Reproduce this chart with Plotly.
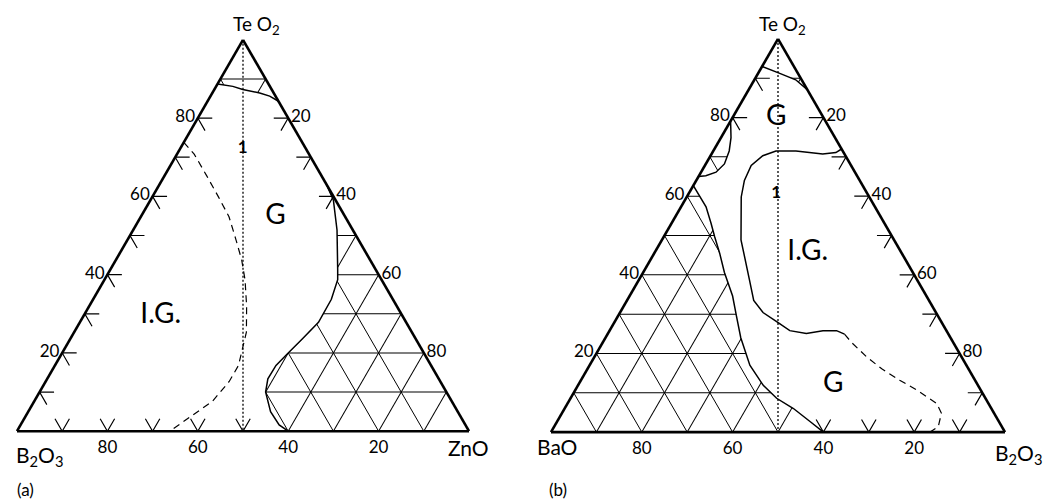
import plotly.graph_objects as go

# the page body keeps its default 8px margin, so the figure is a bit smaller
# than the 1055x501 window and reference pixels are shifted by PAD
W, H = 1055, 501
PAD = 8
FIG_W, FIG_H = W - PAD, H - PAD
FONT = "Lato"

# grid / tick positions along each edge (mol %)
GRID = [10, 20, 30, 40, 50, 60, 70, 80, 90]
GRID_TEXT = ["", "20", "", "40", "", "60", "", "80", ""]

# ---- (a) TeO2 - B2O3 - ZnO, points are (TeO2, B2O3, ZnO)
a_te_limit = [(88.7, 11.3, 0), (88.1, 8.2, 3.7), (87.3, 6.4, 6.3), (86.4, 3.1, 10.5),
              (85.6, 1.3, 13.1), (84.3, 0, 15.7)]
a_glass_limit = [(63, 0, 37), (59, 0.5, 40.5), (51.4, 3.5, 45.1), (41.3, 8.4, 50.3),
                 (38.7, 9.7, 51.6), (33.7, 13.6, 52.7), (27.8, 19.4, 52.8), (23.5, 25.2, 51.3),
                 (20, 30, 50), (16.8, 34.3, 48.9), (13.4, 37.8, 48.8), (10, 40, 50),
                 (5, 41.4, 53.6), (1.6, 41.2, 57.2), (0, 40, 60)]
a_ig_limit = [(73.8, 26.2, 0), (70.8, 25.4, 3.8), (65.3, 25.4, 9.3), (59.8, 25.5, 14.7),
              (54.8, 25.7, 19.5), (48.9, 27.1, 24.0), (43.8, 28.4, 27.8), (38.7, 30.2, 31.1),
              (32.0, 33.2, 34.8), (25.3, 36.6, 38.1), (16.8, 42.6, 40.6), (12.7, 46.7, 40.6),
              (7.6, 53.0, 39.4), (4.1, 59.1, 36.8), (0, 66.2, 33.8)]
a_ticks_left = [10, 20, 30, 40, 50, 60, 70, 80]   # TeO2
a_ticks_right = [20, 30, 40]                     # ZnO
a_ticks_base = [50, 60, 70, 80, 90]              # B2O3
a_labels = ["G", "I.G.", "<b>1</b>"]
a_label_pos = [(54.8, 15.4, 29.8), (29.4, 53.5, 17.1), (72.1, 14.0, 13.9)]

# ---- (b) TeO2 - BaO - B2O3, points are (TeO2, BaO, B2O3)
b_te_limit = [(93, 7, 0), (91.3, 4.1, 4.6), (89.6, 1.3, 9.1), (87.1, 0, 12.9)]
b_pocket = [(79.1, 20.9, 0), (77.4, 21.7, 0.9), (74.9, 22.9, 2.2), (71.5, 25.0, 3.5),
            (68.2, 27.7, 4.1), (66.1, 30.6, 3.3), (65.2, 33.3, 1.5), (65.0, 35.0, 0)]
b_ba_limit = [(62.7, 37.3, 0), (57.3, 37.2, 5.5), (53.1, 38.2, 8.7), (49.7, 39.1, 11.2),
              (45.5, 40.1, 14.4), (40.6, 41.5, 17.9), (34.6, 42.7, 22.7), (29.5, 44.4, 26.1),
              (24.0, 46.2, 29.8), (17.0, 47.7, 35.3), (11.9, 47.3, 40.8), (8.6, 46.0, 45.4),
              (6.0, 43.6, 50.4), (2.7, 41.6, 55.7), (0, 40, 60)]
b_ig_limit = [(72, 0, 28), (71.1, 1.7, 27.2), (70.7, 4.8, 24.5), (71.5, 10.3, 18.2),
              (71.5, 14.7, 13.8), (70.3, 18.2, 11.5), (67.8, 22.0, 10.2), (64.0, 25.4, 10.6),
              (59.8, 28.2, 12.0), (48.9, 33.7, 17.4), (38.8, 36.9, 24.3), (33.5, 38.6, 27.9),
              (30.4, 38.1, 31.5), (27.9, 36.1, 36.0), (25.8, 34.5, 39.7), (25.1, 31.2, 43.7),
              (25.8, 27.2, 47.0), (25.8, 24.2, 50.0), (24.9, 22.9, 52.2)]
b_ig_dash = [(24.9, 22.9, 52.2), (22.8, 22.4, 54.8), (19.1, 20.9, 60.0), (16.1, 19.1, 64.8),
             (13.2, 16.6, 70.2), (10.7, 14.1, 75.2), (7.3, 11.4, 81.3), (4.8, 11.6, 83.6),
             (1.4, 14.0, 84.6), (0, 16.5, 83.5)]
b_ticks_left = [80, 90]                          # TeO2
b_ticks_right = [20, 30, 40, 50, 60, 70, 80, 90]  # B2O3
b_ticks_base = [10, 20, 30, 40]                  # BaO
b_labels = ["G", "I.G.", "G", "<b>1</b>"]
b_label_pos = [(79.8, 10.5, 9.7), (45.5, 20.7, 33.8), (11.9, 31.9, 56.2), (60.6, 20.1, 19.3)]

# 1:1 join line from the TeO2 corner
join_line = [(100, 0, 0), (0, 50, 50)]

TICK = 3.2  # chevron arm length, mol %


def abc(points):
    return dict(a=[p[0] for p in points], b=[p[1] for p in points], c=[p[2] for p in points])


def curve(points, sub, dash="solid", width=1.5):
    return go.Scatterternary(**abc(points), subplot=sub, mode="lines", hoverinfo="skip",
                             line=dict(color="black", width=width, dash=dash))


def chevrons(left, right, base):
    pts = []
    gap = (None, None, None)
    for a in left:
        pts += [(a, 100 - a - TICK, TICK), (a, 100 - a, 0), (a - TICK, 100 - a, TICK), gap]
    for c in right:
        a = 100 - c
        pts += [(a, TICK, c - TICK), (a, 0, c), (a - TICK, TICK, c), gap]
    for b in base:
        c = 100 - b
        pts += [(TICK, b, c - TICK), (0, b, c), (TICK, b - TICK, c), gap]
    return pts


def white(points, sub):
    return go.Scatterternary(**abc(points), subplot=sub, mode="lines", fill="toself",
                             fillcolor="white", line=dict(width=0, color="white"), hoverinfo="skip")


def labels(text, pos, sub, size):
    return go.Scatterternary(**abc(pos), subplot=sub, mode="text", text=text, hoverinfo="skip",
                             textfont=dict(family=FONT, size=size, color="black"))


DASH = "7px,5px"
DOT = "2px,2px"

data = [
    # (a)
    white(a_te_limit + a_glass_limit + [(0, 100, 0)], "ternary"),
    curve(a_te_limit, "ternary"),
    curve(a_glass_limit, "ternary"),
    curve(a_ig_limit, "ternary", dash=DASH, width=1.2),
    curve(join_line, "ternary", dash=DOT, width=1.3),
    curve(chevrons(a_ticks_left, a_ticks_right, a_ticks_base), "ternary", width=1.2),
    labels(a_labels[:2], a_label_pos[:2], "ternary", 28),
    labels(a_labels[2:], a_label_pos[2:], "ternary", 17),
    # (b)
    white(b_te_limit + [(0, 0, 100)] + b_ba_limit[::-1] + b_pocket[::-1], "ternary2"),
    curve(b_te_limit, "ternary2"),
    curve(b_pocket, "ternary2"),
    curve(b_ba_limit, "ternary2"),
    curve(b_ig_limit, "ternary2"),
    curve(b_ig_dash, "ternary2", dash=DASH, width=1.2),
    curve(join_line, "ternary2", dash=DOT, width=1.3),
    curve(chevrons(b_ticks_left, b_ticks_right, b_ticks_base), "ternary2", width=1.2),
    labels(b_labels[:3], b_label_pos[:3], "ternary2", 28),
    labels(b_labels[3:], b_label_pos[3:], "ternary2", 17),
]

axis = dict(tickvals=GRID, ticktext=GRID_TEXT, ticks="", showgrid=True, gridcolor="black",
            gridwidth=1, linecolor="black", linewidth=2.6, title=dict(text=""),
            tickfont=dict(family=FONT, size=17, color="black"))


def px_x(px):
    return (px - PAD) / FIG_W


def px_y(py):
    return 1 - (py - PAD) / FIG_H


def ternary(left, right):
    return dict(sum=100, bgcolor="white",
                domain=dict(x=[px_x(left), px_x(right)], y=[px_y(433), px_y(38)]),
                aaxis=axis, baxis=axis, caxis=axis)


def note(text, px, py, size=21):
    return dict(text=text, x=px_x(px), y=px_y(py), xref="paper", yref="paper",
                xanchor="center", yanchor="middle", showarrow=False,
                font=dict(family=FONT, size=size, color="black"))


layout = go.Layout(
    width=FIG_W, height=FIG_H,
    margin=dict(l=0, r=0, t=0, b=0),
    paper_bgcolor="white",
    showlegend=False,
    hovermode=False,
    ternary=ternary(17, 469),
    ternary2=ternary(551, 1005),
    annotations=[
        note("Te O<sub>2</sub>", 256, 25, 19),
        note("B<sub>2</sub>O<sub>3</sub>", 39, 456),
        note("ZnO", 468, 447),
        note("(a)", 25, 489, 17),
        note("Te O<sub>2</sub>", 782, 25, 19),
        note("BaO", 557, 446),
        note("B<sub>2</sub>O<sub>3</sub>", 1018, 454),
        note("(b)", 558, 489, 17),
    ],
)

fig = go.Figure(data=data, layout=layout)
fig.write_html("out.html")
